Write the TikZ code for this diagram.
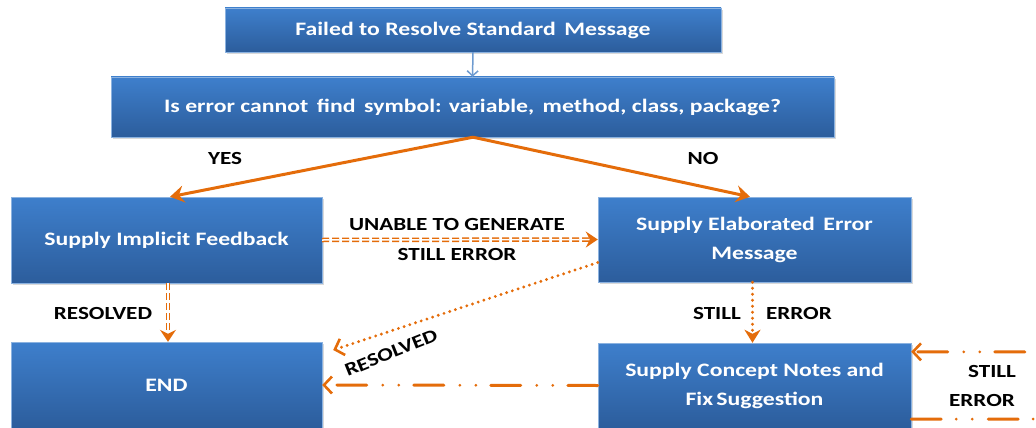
\documentclass[tikz,border=0pt]{standalone}
\usepackage{fontspec}
\setmainfont{Carlito}[FakeStretch=1.25]
\usetikzlibrary{arrows.meta,shadows,calc}
\definecolor{org}{HTML}{E46C0A}
\definecolor{btop}{HTML}{3E7FCC}
\definecolor{bbot}{HTML}{2C5D9C}
\definecolor{thinblue}{HTML}{6E9BD0}
\begin{document}
\begin{tikzpicture}[x=1pt,y=-1pt,
  box/.style={top color=btop, bottom color=bbot, draw=btop!60!white, line width=0.4pt,
    drop shadow={shadow xshift=1.5pt, shadow yshift=-2pt, opacity=0.3},
    text=white, font=\fontsize{19}{29}\selectfont\bfseries, align=center, inner sep=0pt},
  lab/.style={font=\fontsize{18.5}{24}\selectfont\bfseries, text=black, inner sep=0pt},
  bigtip/.style={-{Stealth[length=14pt,width=17pt,inset=5pt]}},
  opentip/.style={-{Straight Barb[length=8pt,width=17pt,line width=2.6pt]}},
  solidarr/.style={draw=org, line width=3pt, bigtip},
  ddash/.style={draw=org, line width=1.5pt, double=white, double distance=1.5pt,
    dash pattern=on 7pt off 3pt, -{Stealth[length=12pt,width=16pt,inset=4pt]}},
  dotarr/.style={draw=org, line width=3.2pt, line cap=round, dash pattern=on 0pt off 6pt},
  ddot/.style={draw=org, line width=3pt, line cap=round,
    dash pattern=on 30pt off 15pt on 0pt off 16pt on 0pt off 16pt},
]
\useasboundingbox (0,0) rectangle (1036,428);
\clip (0,0) rectangle (1036,428);

\node[box, minimum width=496pt, minimum height=44pt] (top) at (473,30) {Failed to Resolve Standard\, Message};
\node[box, minimum width=723pt, minimum height=60pt] (q) at (472.5,107) {Is error cannot\, find\, symbol: variable,\, method, class, package?};
\node[box, minimum width=311pt, minimum height=86pt] (impl) at (166.5,240) {Supply Implicit Feedback};
\node[box, minimum width=313pt, minimum height=85pt] (elab) at (754.5,239.5) {Supply Elaborated\, Error\\Message};
\node[box, minimum width=311pt, minimum height=86pt] (endn) at (166.5,385) {END};
\node[box, minimum width=313pt, minimum height=85pt] (conc) at (754.5,385.5) {Supply Concept Notes and\\Fix\,Suggestion};

% top arrow
\draw[draw=thinblue, line width=1.5pt, -{Straight Barb[length=5pt,width=11pt]}] (top.south) -- (q.north);

% yes / no
\coordinate (qs) at ($(q.south)+(0.5,0)$);
\coordinate (yt) at ($(impl.north)+(3.5,0)$);
\coordinate (nt) at ($(elab.north)+(-4.5,0)$);
\draw[solidarr] (qs) -- (yt);
\draw[solidarr] (qs) -- (nt);
\node[lab] (yes) at (225,158) {YES};
\node[lab] (no) at (703,158) {NO};

% implicit -> elaborated
\draw[ddash] (impl.east) -- (elab.west);
\node[lab] (unable) at (457,224) {UNABLE TO GENERATE};
\node[lab] (still1) at (457,254) {STILL ERROR};

% implicit -> end
\coordinate (is) at ($(impl.south)+(1.5,0)$);
\coordinate (en) at ($(endn.north)+(1.5,0)$);
\draw[ddash] (is) -- (en);
\node[lab] (res1) at (103,313) {RESOLVED};

% elaborated -> end (dotted)
\coordinate (ew) at ($(elab.west)+(0,23)$);
\coordinate (ee) at ($(endn.east)+(11,-35)$);
\draw[dotarr, opentip] (ew) -- (ee);
\node[lab, rotate=22] (res2) at (391,353) {RESOLVED};

% elaborated -> concept (dotted)
\coordinate (es) at ($(elab.south)+(-2,0)$);
\coordinate (cn) at ($(conc.north)+(-2,0)$);
\draw[dotarr, -{Stealth[length=13pt,width=16pt,inset=4pt]}] (es) -- (cn);
\node[lab] (still2) at (717,313) {STILL};
\node[lab] (err2) at (799,313) {ERROR};

% concept -> end (dash dot)
\draw[ddot, opentip] (conc.west) -- (endn.east);

% loop on the right
\coordinate (lb) at ($(conc.south east)+(0,-9)$);
\coordinate (lt) at ($(conc.north east)+(0,9)$);
\coordinate (rb) at (1050,419);
\coordinate (rt) at (1050,352);
\draw[ddot, opentip] (lb) -- (rb) -- (rt) -- (lt);
\node[lab] (still3) at (992,371) {STILL};
\node[lab] (err3) at (982,400) {ERROR};
\end{tikzpicture}
\end{document}
